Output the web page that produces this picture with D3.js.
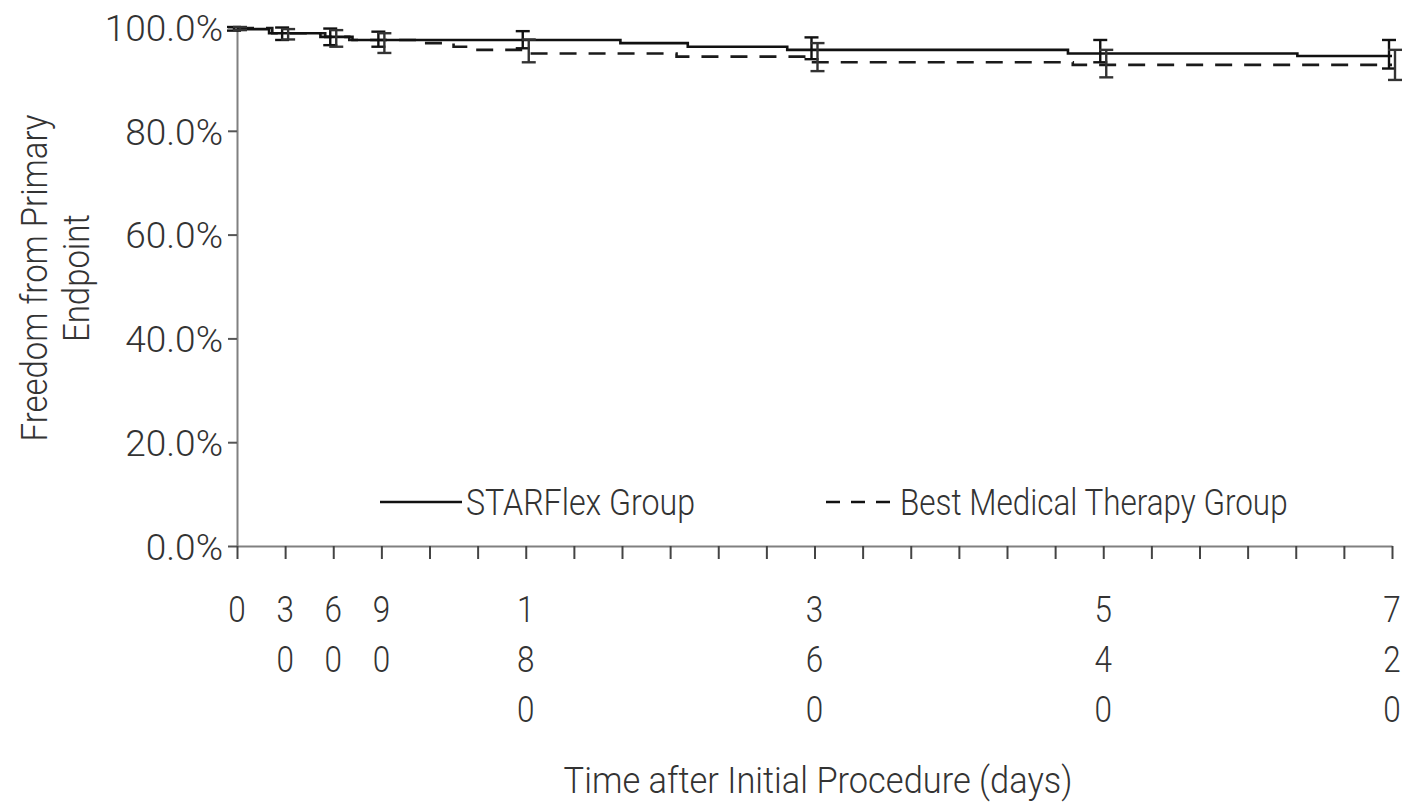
<!DOCTYPE html>
<html>
<head>
<meta charset="utf-8">
<script src="https://cdn.jsdelivr.net/npm/d3@7"></script>
<style>
  body { margin: 0; background: #fff; }
  text { font-family: Roboto, "Liberation Sans", Arial, sans-serif; font-weight: 300; fill: #333; }
</style>
</head>
<body>
<script>
// Kaplan-Meier steps (days, % free from endpoint)
const starDays = [0, 20, 52, 72, 239, 281, 343, 518, 661];
const starSurv = [99.6, 98.8, 98.1, 97.5, 96.9, 96.2, 95.6, 94.9, 94.4];
const bmtDays = [0, 22, 55, 70, 116, 135, 147, 178, 274, 355, 521];
const bmtSurv = [99.8, 98.8, 98.1, 97.5, 96.9, 96.2, 95.6, 94.9, 94.3, 93.2, 92.7];
const endDay = 720;

// error bars at the follow-up visits
const barDays = [0, 30, 60, 90, 180, 360, 540, 720];
const starHi = [100, 99.9, 99.7, 99.1, 99.2, 98.0, 97.5, 97.5];
const starLo = [99.3, 97.5, 96.5, 96.2, 95.9, 93.8, 93.2, 92.0];
const bmtHi = [100, 99.6, 99.4, 98.8, 97.6, 96.9, 95.6, 95.6];
const bmtLo = [99.4, 97.6, 96.2, 95.0, 93.2, 91.5, 90.3, 89.8];

const yTicks = [0, 20, 40, 60, 80, 100];
const xTicks = d3.range(0, 721, 30);
const xLabels = [0, 30, 60, 90, 180, 360, 540, 720];
const seriesNames = ["STARFlex Group", "Best Medical Therapy Group"];

const W = 1406, H = 804;
const plotL = 237, plotR = 1392, plotT = 27, plotB = 546;
const FS = 37, SQ = 0.85; // font size and horizontal squeeze of the old bitmap font

const svg = d3.select("body").append("svg").attr("width", W).attr("height", H);

const x = d3.scaleLinear().domain([0, 720]).range([plotL, plotR]);
const y = d3.scaleLinear().domain([0, 100]).range([plotB, plotT]);

// y axis
const gy = svg.append("g").attr("transform", `translate(${plotL},0)`)
  .call(d3.axisLeft(y).tickValues(yTicks).tickSize(9).tickSizeOuter(0).tickFormat(d => d.toFixed(1) + "%"));
gy.select(".domain").attr("stroke", "#808080").attr("stroke-width", 2);
gy.selectAll(".tick line").attr("stroke", "#555").attr("stroke-width", 2);
gy.selectAll(".tick text").attr("font-size", FS).attr("x", -14).attr("dy", "0.36em").attr("fill", "#333");

// x axis
const gx = svg.append("g").attr("transform", `translate(0,${plotB})`)
  .call(d3.axisBottom(x).tickValues(xTicks).tickSize(13).tickSizeOuter(0).tickFormat(""));
gx.select(".domain").attr("stroke", "#808080").attr("stroke-width", 2);
gx.selectAll(".tick line").attr("stroke", "#444").attr("stroke-width", 2);

// x labels are written one digit per row
xLabels.forEach(d => {
  String(d).split("").forEach((ch, i) => {
    svg.append("text")
      .attr("transform", `translate(${x(d)},${622 + i * 50}) scale(${SQ},1)`)
      .attr("text-anchor", "middle").attr("font-size", FS).text(ch);
  });
});

// KM step lines
function steps(days, surv) {
  const pts = days.map((d, i) => [d, surv[i]]);
  pts.push([endDay, surv[surv.length - 1]]);
  return d3.line().x(d => x(d[0])).y(d => y(d[1])).curve(d3.curveStepAfter)(pts);
}

svg.append("path").attr("d", steps(bmtDays, bmtSurv))
  .attr("fill", "none").attr("stroke", "#1a1a1a").attr("stroke-width", 2.6)
  .attr("stroke-dasharray", "17,12");
svg.append("path").attr("d", steps(starDays, starSurv))
  .attr("fill", "none").attr("stroke", "#111").attr("stroke-width", 2.6);

// error bars
function errBars(hi, lo, shift, color) {
  const g = svg.append("g").attr("stroke", color).attr("stroke-width", 2.4);
  barDays.forEach((d, i) => {
    const cx = x(d) + shift;
    g.append("line").attr("x1", cx).attr("x2", cx).attr("y1", y(hi[i])).attr("y2", y(lo[i]));
    [hi[i], lo[i]].forEach(v => {
      g.append("line").attr("x1", cx - 7).attr("x2", cx + 7).attr("y1", y(v)).attr("y2", y(v));
    });
  });
}
errBars(starHi, starLo, -3, "#111");
errBars(bmtHi, bmtLo, 3, "#333");

// legend
const leg = svg.append("g");
leg.append("line").attr("x1", 380).attr("x2", 462).attr("y1", 502).attr("y2", 502)
  .attr("stroke", "#111").attr("stroke-width", 2.6);
leg.append("text").attr("transform", `translate(466,515) scale(0.87,1)`)
  .attr("font-size", FS).text(seriesNames[0]);
leg.append("line").attr("x1", 826).attr("x2", 894).attr("y1", 502).attr("y2", 502)
  .attr("stroke", "#111").attr("stroke-width", 2.6).attr("stroke-dasharray", "14,11");
leg.append("text").attr("transform", `translate(900,515) scale(${SQ},1)`)
  .attr("font-size", FS).text(seriesNames[1]);

// axis titles
svg.append("text").attr("transform", `translate(818,793) scale(0.93,1)`)
  .attr("text-anchor", "middle").attr("font-size", FS).text("Time after Initial Procedure (days)");
svg.append("text").attr("transform", `translate(47,278) rotate(-90) scale(0.89,1)`)
  .attr("text-anchor", "middle").attr("font-size", FS).attr("fill", "#555").text("Freedom from Primary");
svg.append("text").attr("transform", `translate(89,278) rotate(-90) scale(0.89,1)`)
  .attr("text-anchor", "middle").attr("font-size", FS).attr("fill", "#555").text("Endpoint");
</script>
</body>
</html>
